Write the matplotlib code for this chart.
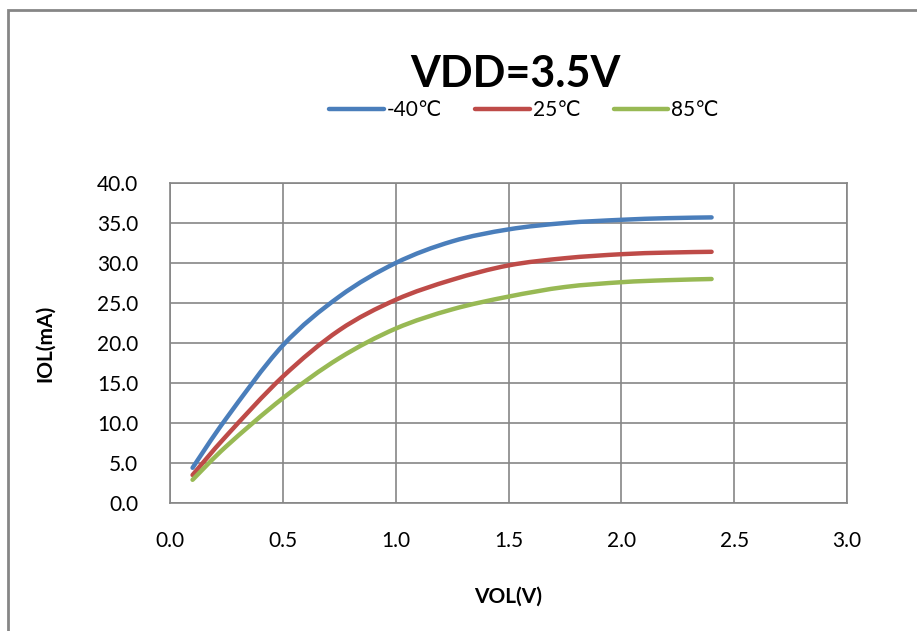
import matplotlib
matplotlib.use('Agg')
import matplotlib.pyplot as plt
from matplotlib.path import Path
from matplotlib.patches import PathPatch, Rectangle
from matplotlib.lines import Line2D

plt.rcParams['font.family'] = ['Lato', 'DejaVu Sans']

# dane
vol = [0.1, 0.25, 0.5, 0.75, 1.0, 1.25, 1.5, 1.75, 2.0, 2.2, 2.4]
iol_m40 = [4.4, 10.6, 19.7, 25.8, 30.0, 32.7, 34.2, 35.0, 35.4, 35.6, 35.7]
iol_25 = [3.5, 8.4, 15.8, 21.6, 25.4, 27.9, 29.7, 30.6, 31.1, 31.3, 31.4]
iol_85 = [2.9, 7.1, 13.1, 18.1, 21.8, 24.2, 25.8, 27.0, 27.6, 27.85, 28.0]
labels = ['-40\u2103', '25\u2103', '85\u2103']
colors = ['#4A7EBB', '#BE4B48', '#98B954']
xticks = [0.0, 0.5, 1.0, 1.5, 2.0, 2.5, 3.0]
yticks = [0, 5, 10, 15, 20, 25, 30, 35, 40]


def smooth_path(xs, ys):
    # wygladzona linia jak w Excelu (krzywe Beziera przez punkty)
    pts = list(zip(xs, ys))
    n = len(pts)
    verts = [pts[0]]
    codes = [Path.MOVETO]
    for i in range(n - 1):
        p0 = pts[i - 1] if i > 0 else pts[i]
        p1 = pts[i]
        p2 = pts[i + 1]
        p3 = pts[i + 2] if i + 2 < n else pts[i + 1]
        c1 = (p1[0] + (p2[0] - p0[0]) / 6, p1[1] + (p2[1] - p0[1]) / 6)
        c2 = (p2[0] - (p3[0] - p1[0]) / 6, p2[1] - (p3[1] - p1[1]) / 6)
        verts += [c1, c2, p2]
        codes += [Path.CURVE4] * 3
    return Path(verts, codes)


fig = plt.figure(figsize=(9.17, 6.31), dpi=100)
ax = fig.add_axes([170 / 917, 128 / 631, 677 / 917, 320 / 631])

for ys, col in zip([iol_m40, iol_25, iol_85], colors):
    ax.add_patch(PathPatch(smooth_path(vol, ys), facecolor='none', edgecolor=col,
                           linewidth=3.2, capstyle='round', zorder=3))

ax.set_xlim(0, 3)
ax.set_ylim(0, 40)
ax.set_xticks(xticks)
ax.set_yticks(yticks)
ax.set_xticklabels(['%.1f' % v for v in xticks])
ax.set_yticklabels(['%.1f' % v for v in yticks])
ax.tick_params(length=0, labelsize=15)
ax.tick_params(axis='y', pad=23)
ax.tick_params(axis='x', pad=20)
ax.grid(True, color='#868686', linewidth=1.2)
ax.set_axisbelow(True)
for s in ax.spines.values():
    s.set_color('#868686')
    s.set_linewidth(1.2)

ax.set_xlabel('VOL(V)', fontsize=15, fontweight='bold', labelpad=26)
ax.set_ylabel('IOL(mA)', fontsize=15, fontweight='bold', labelpad=30)

fig.text(515 / 917, 1 - 87 / 631, 'VDD=3.5V', fontsize=31, fontweight='bold',
         ha='center', va='baseline')

handles = [Line2D([], [], color=c, linewidth=3.2, solid_capstyle='round') for c in colors]
fig.legend(handles, labels, loc='center', bbox_to_anchor=(524 / 917, 1 - 110 / 631),
           ncol=3, frameon=False, fontsize=15, handlelength=2.6, handletextpad=0.15,
           columnspacing=1.6)

# ramka wykresu
fig.patches.append(Rectangle((8 / 917, -0.1), 1.2, 1.1 - 10 / 631, transform=fig.transFigure,
                             facecolor='none', edgecolor='#868686', linewidth=2))

fig.savefig('out.png', dpi=100)
